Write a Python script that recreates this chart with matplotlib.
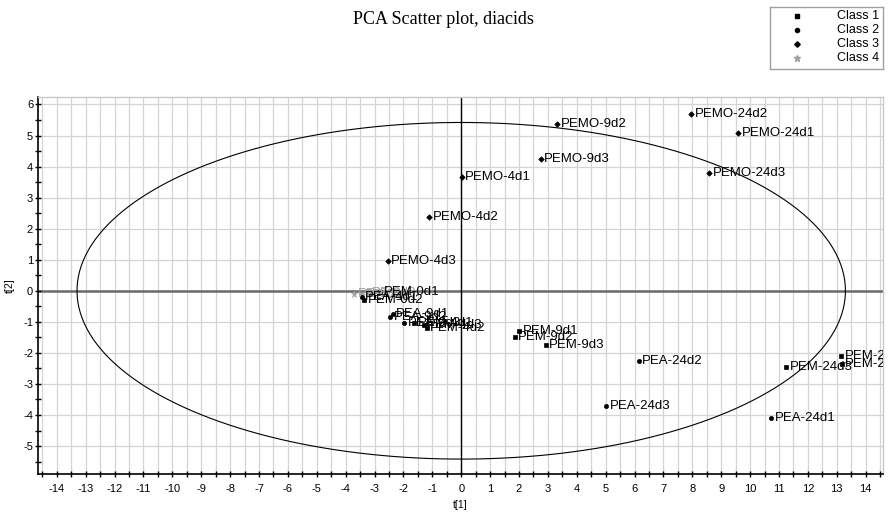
import numpy as np
import matplotlib
matplotlib.use("Agg")
import matplotlib.pyplot as plt
from matplotlib.ticker import MultipleLocator

plt.rcParams['font.family'] = ['Liberation Sans', 'DejaVu Sans']
plt.rcParams['axes.unicode_minus'] = False

# ---- data ----
class1_labels = ["PEM-0d1", "PEM-0d2", "PEM-4d1", "PEM-4d3", "PEM-4d2",
                 "PEM-9d1", "PEM-9d2", "PEM-9d3", "PEM-24d3", "PEM-24d1", "PEM-24d2"]
class1_x = [-2.81, -3.36, -1.62, -1.30, -1.19, 2.01, 1.85, 2.92, 11.25, 13.16, 13.17]
class1_y = [-0.05, -0.30, -1.03, -1.10, -1.20, -1.29, -1.48, -1.73, -2.45, -2.09, -2.35]

class2_labels = ["PEA-4d1", "PEA-9d1", "PEA-9d2", "PEA-9d3", "PEA-24d1", "PEA-24d2", "PEA-24d3"]
class2_x = [-3.45, -2.37, -2.46, -1.98, 10.74, 6.14, 5.02]
class2_y = [-0.20, -0.74, -0.83, -1.03, -4.09, -2.27, -3.70]

class3_labels = ["PEMO-4d1", "PEMO-4d2", "PEMO-4d3", "PEMO-9d2", "PEMO-9d3",
                 "PEMO-24d1", "PEMO-24d2", "PEMO-24d3"]
class3_x = [0.02, -1.11, -2.55, 3.32, 2.75, 9.59, 7.96, 8.59]
class3_y = [3.66, 2.37, 0.96, 5.36, 4.23, 5.09, 5.69, 3.78]

class4_labels = ["PE-0d1", "PE-0d2", "PE-0d3"]
class4_x = [-3.70, -3.45, -3.20]
class4_y = [-0.10, -0.12, -0.08]

ellipse_a = 13.3
ellipse_b = 5.42

# ---- figure ----
fig = plt.figure(figsize=(8.93, 5.12), dpi=100)
ax = fig.add_axes([38/893, 1-474/512, (883-38)/893, (474-97)/512])

ax.set_xlim(-14.65, 14.6)
ax.set_ylim(-5.9, 6.24)

# grid
for gx in np.arange(-14.5, 14.6, 0.5):
    ax.axvline(gx, color='#d4d4d4', lw=0.9, zorder=0)
for gy in np.arange(-5, 6.1, 1):
    ax.axhline(gy, color='#d4d4d4', lw=0.9, zorder=0)

ax.axhline(0, color='#6a6a6a', lw=1.8, zorder=1)
ax.axvline(0, color='black', lw=1.0, zorder=1)

# ellipse
t = np.linspace(0, 2*np.pi, 400)
ax.plot(ellipse_a*np.cos(t), ellipse_b*np.sin(t), color='black', lw=0.8, zorder=2)

def draw(xs, ys, labels, marker, ms, color):
    ax.plot(xs, ys, linestyle='none', marker=marker, markersize=ms,
            color=color, markeredgewidth=0.5, zorder=4)
    for x, y, lab in zip(xs, ys, labels):
        ax.annotate(lab, (x, y), xytext=(2.5, 0), textcoords='offset points',
                    va='center', ha='left', fontsize=9.5, color=color,
                    annotation_clip=False, clip_on=True, zorder=5)

draw(class4_x, class4_y, class4_labels, '*', 5, '#a0a0a0')
draw(class1_x, class1_y, class1_labels, 's', 3.5, 'black')
draw(class2_x, class2_y, class2_labels, 'o', 3.0, 'black')
draw(class3_x, class3_y, class3_labels, 'D', 2.8, 'black')

# ticks
ax.xaxis.set_major_locator(MultipleLocator(1))
ax.xaxis.set_minor_locator(MultipleLocator(0.5))
ax.yaxis.set_major_locator(MultipleLocator(1))
ax.yaxis.set_minor_locator(MultipleLocator(0.5))
ax.tick_params(which='both', direction='inout', length=5, width=1, labelsize=8)
ax.tick_params(axis='x', which='major', pad=5)
ax.tick_params(axis='y', which='major', pad=1)
ax.set_xticks(np.arange(-14, 15, 1))
ax.set_yticks(np.arange(-5, 7, 1))

for s in ['top', 'right']:
    ax.spines[s].set_color('#c8c8c8')
    ax.spines[s].set_linewidth(1.0)
for s in ['left', 'bottom']:
    ax.spines[s].set_color('black')
    ax.spines[s].set_linewidth(1.2)

ax.set_xlabel('t[1]', fontsize=7.5, labelpad=4)
ax.set_ylabel('t[2]', fontsize=7.5)
ax.yaxis.set_label_coords((15-38)/845, 0.5)

fig.text(443/893, 1-20/512, 'PCA Scatter plot, diacids', ha='center', va='center',
         fontsize=13, family='Liberation Serif')

# legend box
lax = fig.add_axes([770/893, 1-69/512, 113/893, 62/512])
lax.set_xlim(0, 113)
lax.set_ylim(62, 0)
lax.set_xticks([])
lax.set_yticks([])
for s in lax.spines.values():
    s.set_color('#a0a0a0')
    s.set_linewidth(1.0)
leg_labels = ["Class 1", "Class 2", "Class 3", "Class 4"]
leg_markers = ['s', 'o', 'D', '*']
leg_sizes = [3.5, 3.0, 2.8, 5]
leg_colors = ['black', 'black', 'black', '#a0a0a0']
for i, (lab, m, ms, c) in enumerate(zip(leg_labels, leg_markers, leg_sizes, leg_colors)):
    yy = 9 + i*14
    lax.plot([27], [yy], marker=m, markersize=ms, color=c, linestyle='none')
    lax.text(109, yy, lab, ha='right', va='center', fontsize=9)

fig.savefig('out.png', dpi=100)
